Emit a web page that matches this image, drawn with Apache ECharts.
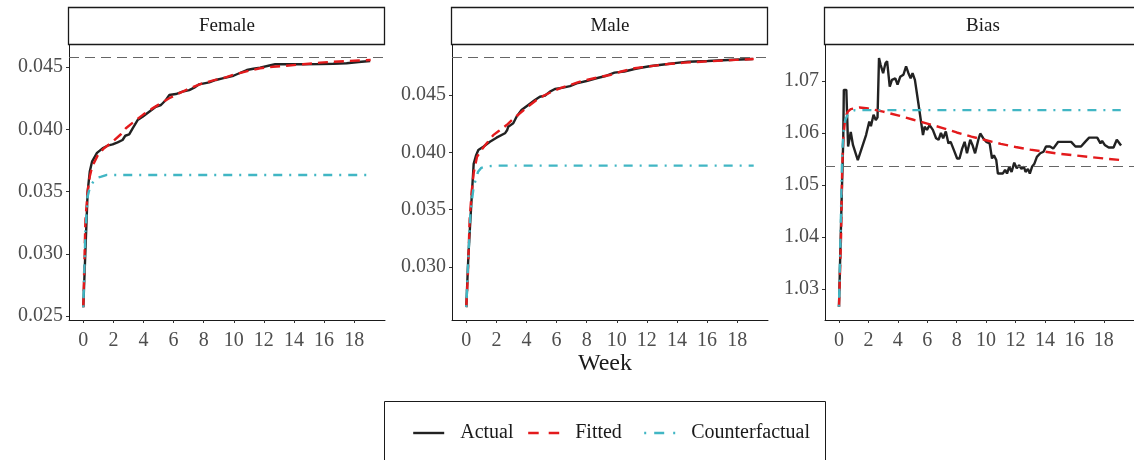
<!DOCTYPE html>
<html>
<head>
<meta charset="utf-8">
<script src="https://cdn.jsdelivr.net/npm/echarts@6/dist/echarts.min.js"></script>
<style>
html, body { margin: 0; padding: 0; background: #fff; }
#chart { width: 1134px; height: 460px; }
</style>
</head>
<body>
<div id="chart"></div>
<script>
// panels and ticks
var panels = ['Female', 'Male', 'Bias'];
var weekTicks = [0, 2, 4, 6, 8, 10, 12, 14, 16, 18];
var femaleTicks = [0.025, 0.030, 0.035, 0.040, 0.045];
var maleTicks = [0.030, 0.035, 0.040, 0.045];
var biasTicks = [1.03, 1.04, 1.05, 1.06, 1.07];

// horizontal reference lines
var refLines = [0.0458, 0.0483, 1.0536];

// [week, value]
var femaleActual = [[0,0.0257],[0.14,0.0302],[0.29,0.0350],[0.43,0.0366],[0.58,0.0374],[0.91,0.0381],[1.28,0.03847],[1.61,0.03868],[1.95,0.03879],[2.28,0.03895],[2.61,0.03914],[2.79,0.03948],[3.05,0.03959],[3.28,0.04008],[3.61,0.04074],[3.94,0.04101],[4.38,0.04141],[4.82,0.04181],[5.16,0.04195],[5.49,0.04235],[5.71,0.04275],[6.15,0.04283],[6.6,0.04302],[7.04,0.04315],[7.37,0.04334],[7.7,0.04361],[8.03,0.04369],[8.37,0.04377],[8.81,0.04396],[9.25,0.04409],[9.69,0.04422],[9.98,0.0443],[10.4,0.04452],[10.87,0.04476],[11.3,0.04486],[11.75,0.04495],[12.3,0.0451],[12.75,0.04522],[13.5,0.04522],[14.5,0.04522],[15.74,0.04524],[16.6,0.04526],[17.5,0.0453],[18.3,0.0454],[19.06,0.04548]];
var femaleFitted = [[0,0.0257],[0.14,0.0327],[0.29,0.0350],[0.43,0.0362],[0.57,0.0369],[0.71,0.0373],[1.0,0.0380],[1.4,0.0385],[1.95,0.0390],[2.5,0.0396],[2.83,0.04008],[3.5,0.04074],[4.0,0.0412],[4.6,0.04168],[5.1,0.04205],[5.71,0.04249],[6.2,0.0428],[6.82,0.04315],[7.4,0.04345],[7.92,0.04369],[8.7,0.04395],[9.47,0.04417],[9.98,0.04438],[10.9,0.04467],[11.75,0.0449],[12.6,0.04502],[13.5,0.0451],[14.6,0.04522],[15.74,0.04535],[16.6,0.04542],[17.5,0.04548],[18.3,0.04552],[19.1,0.04556]];
var femaleCounter = [[0,0.0257],[0.14,0.0318],[0.29,0.0346],[0.43,0.0353],[0.57,0.0356],[0.71,0.0359],[0.91,0.0361],[1.2,0.0362],[1.57,0.03633],[19.1,0.03633]];

var maleActual = [[0,0.0265],[0.14,0.0310],[0.22,0.0329],[0.4,0.0370],[0.49,0.0390],[0.64,0.0397],[0.8,0.0402],[1.13,0.04049],[1.57,0.04093],[2.01,0.04128],[2.57,0.04166],[2.72,0.04195],[2.79,0.04224],[3.12,0.04253],[3.34,0.04311],[3.67,0.04369],[4.12,0.04413],[4.56,0.04456],[4.89,0.04485],[5.22,0.04494],[5.56,0.04529],[5.89,0.04552],[6.44,0.04564],[6.89,0.04578],[7.33,0.04602],[7.99,0.04622],[8.65,0.04646],[9.32,0.04668],[9.85,0.04695],[10.5,0.04705],[11.18,0.04727],[11.7,0.0474],[12.28,0.04753],[13.39,0.0477],[14.0,0.0478],[14.72,0.0479],[16.05,0.04797],[17.38,0.04805],[18.2,0.0481],[19.04,0.04814]];
var maleFitted = [[0,0.0265],[0.11,0.0295],[0.22,0.0341],[0.36,0.0366],[0.49,0.0382],[0.71,0.0396],[1.0,0.0402],[1.3,0.0407],[1.79,0.0415],[2.2,0.0419],[2.68,0.04238],[3.1,0.0429],[3.56,0.0434],[4.1,0.0440],[4.67,0.04456],[5.2,0.04498],[5.78,0.04535],[6.3,0.04562],[6.89,0.04587],[7.4,0.0461],[7.99,0.04631],[8.8,0.04655],[9.54,0.04674],[10.3,0.04705],[11.18,0.04733],[12.3,0.04752],[13.39,0.0477],[14.5,0.04782],[15.6,0.0479],[16.7,0.04798],[17.9,0.04806],[19.1,0.04814]];
var maleCounter = [[0,0.0265],[0.11,0.0300],[0.27,0.0347],[0.49,0.0370],[0.78,0.0383],[1.0,0.03865],[1.33,0.03878],[2.0,0.03884],[19.1,0.03884]];

var biasActual = [[0,1.0266],[0.18,1.0471],[0.29,1.0587],[0.33,1.0683],[0.5,1.0683],[0.62,1.0574],[0.8,1.0602],[0.95,1.0577],[1.28,1.0548],[1.84,1.0596],[2.06,1.0622],[2.17,1.0613],[2.35,1.0635],[2.5,1.0625],[2.62,1.063],[2.72,1.0744],[2.83,1.0731],[3.0,1.0715],[3.16,1.0734],[3.27,1.0738],[3.45,1.0689],[3.6,1.0702],[3.83,1.0705],[3.98,1.0693],[4.16,1.0708],[4.38,1.0712],[4.56,1.0728],[4.72,1.0715],[4.87,1.0705],[5.0,1.0715],[5.16,1.0702],[5.38,1.066],[5.71,1.0596],[5.82,1.0612],[5.98,1.0606],[6.16,1.0615],[6.38,1.0606],[6.6,1.059],[6.77,1.0587],[6.93,1.06],[7.08,1.059],[7.26,1.0603],[7.44,1.058],[7.59,1.0583],[7.81,1.0567],[8.03,1.0551],[8.19,1.0551],[8.37,1.057],[8.54,1.0583],[8.7,1.0561],[8.92,1.0587],[9.07,1.0577],[9.25,1.0561],[9.47,1.0587],[9.6,1.0599],[9.8,1.059],[10.02,1.0583],[10.24,1.058],[10.4,1.0551],[10.53,1.0557],[10.69,1.0548],[10.8,1.0522],[11.13,1.0522],[11.29,1.0529],[11.42,1.0522],[11.57,1.0535],[11.73,1.0525],[11.91,1.0543],[12.08,1.0532],[12.24,1.0538],[12.4,1.0531],[12.57,1.0535],[12.68,1.0525],[12.84,1.0531],[12.97,1.0522],[13.12,1.0535],[13.28,1.0541],[13.45,1.0554],[13.68,1.0561],[13.9,1.0564],[14.07,1.0574],[14.34,1.0574],[14.56,1.057],[14.9,1.0583],[15.45,1.0583],[15.78,1.0583],[16.07,1.0574],[16.45,1.0574],[16.73,1.0583],[17.0,1.0591],[17.55,1.0591],[17.77,1.058],[17.88,1.0585],[18.06,1.0577],[18.33,1.0572],[18.66,1.0572],[18.88,1.0587],[19.17,1.0576]];
var biasFitted = [[0,1.0266],[0.14,1.040],[0.21,1.052],[0.29,1.059],[0.43,1.063],[0.6,1.0641],[0.8,1.0646],[1.39,1.0649],[2,1.0647],[3,1.0641],[4,1.0634],[5,1.0626],[6,1.0618],[7,1.061],[8,1.0601],[9,1.0593],[10,1.0586],[11,1.0579],[12,1.0573],[13,1.0568],[14,1.0564],[15,1.056],[16,1.0557],[17,1.0554],[18,1.0551],[19.15,1.0548]];
var biasCounter = [[0,1.0266],[0.14,1.045],[0.21,1.055],[0.29,1.060],[0.43,1.0625],[0.6,1.0636],[0.8,1.0641],[1.1,1.0644],[19.15,1.0644]];

var chart = echarts.init(document.getElementById('chart'), null, {renderer: 'canvas'});

var FONT = 'Liberation Serif';
var gridLefts = [69, 452, 825];
var gridW = 316, gridTop = 45, gridH = 275;
var yRanges = [[0.02468, 0.04677], [0.02538, 0.04936], [1.02404, 1.07692]];
var yTicks = [femaleTicks, maleTicks, biasTicks];
var yDigits = [3, 3, 2];
var seriesData = [
    [femaleActual, femaleFitted, femaleCounter],
    [maleActual, maleFitted, maleCounter],
    [biasActual, biasFitted, biasCounter]
];

// line look of each series
var styles = {
    Actual: {color: '#222222', width: 2.4, type: 'solid'},
    Fitted: {color: '#E31A1C', width: 2.4, type: [10, 6]},
    Counterfactual: {color: '#41B6C4', width: 2.4, type: [2, 7, 9, 7]}
};
// dash pattern of the legend keys
var legendDash = {Actual: 'solid', Fitted: [10.5, 10], Counterfactual: [2, 8, 10, 9]};
var names = ['Actual', 'Fitted', 'Counterfactual'];

var grids = [], xAxes = [], yAxes = [], series = [], graphics = [];

panels.forEach(function (name, i) {
    grids.push({left: gridLefts[i], top: gridTop, width: gridW, height: gridH});

    xAxes.push({
        type: 'value', gridIndex: i, min: -0.95, max: 20.05,
        axisLine: {show: true, onZero: false, lineStyle: {color: '#1a1a1a', width: 1}},
        axisTick: {show: true, length: 3, customValues: weekTicks, lineStyle: {color: '#333'}},
        axisLabel: {customValues: weekTicks, margin: 11, color: '#4d4d4d', fontSize: 20, fontFamily: FONT},
        splitLine: {show: false}
    });

    yAxes.push({
        type: 'value', gridIndex: i, min: yRanges[i][0], max: yRanges[i][1],
        axisLine: {show: true, onZero: false, lineStyle: {color: '#1a1a1a', width: 1}},
        axisTick: {show: true, length: 3, customValues: yTicks[i], lineStyle: {color: '#333'}},
        axisLabel: {
            customValues: yTicks[i], margin: 6, color: '#4d4d4d', fontSize: 20, fontFamily: FONT,
            formatter: (function (d) { return function (v) { return v.toFixed(d); }; })(yDigits[i])
        },
        splitLine: {show: false}
    });

    names.forEach(function (s, k) {
        var item = {
            name: s, type: 'line', xAxisIndex: i, yAxisIndex: i,
            data: seriesData[i][k], symbol: 'none', z: 3 + k,
            lineStyle: styles[s],
            itemStyle: {color: styles[s].color}
        };
        if (k === 0) {
            item.markLine = {
                silent: true, symbol: 'none', label: {show: false}, animation: false, precision: 6,
                lineStyle: {color: '#666666', width: 1.2, type: [10, 6]},
                data: [{yAxis: refLines[i]}]
            };
        }
        series.push(item);
    });

    // facet strip
    graphics.push({
        type: 'rect', z: 10,
        shape: {x: gridLefts[i] - 0.5, y: 7.5, width: gridW, height: 37},
        style: {fill: '#ffffff', stroke: '#1a1a1a', lineWidth: 1.3}
    });
    graphics.push({
        type: 'text', z: 11,
        style: {
            text: name, x: gridLefts[i] + gridW / 2, y: 26,
            align: 'center', verticalAlign: 'middle',
            font: '19px "' + FONT + '"', fill: '#1a1a1a'
        }
    });
});

// axis title
graphics.push({
    type: 'text', z: 11,
    style: {text: 'Week', x: 605, y: 364, align: 'center', verticalAlign: 'middle',
        font: '24px "' + FONT + '"', fill: '#1a1a1a'}
});
// legend box
graphics.push({
    type: 'rect', z: 1,
    shape: {x: 384.5, y: 401.5, width: 441, height: 80},
    style: {fill: 'none', stroke: '#1a1a1a', lineWidth: 1}
});

var legendLeft = [412, 527, 643];
var legends = names.map(function (s, k) {
    return {
        data: [s], left: legendLeft[k], top: 423, padding: 0,
        itemWidth: 31, itemHeight: 18, selectedMode: false,
        itemStyle: {opacity: 0},
        lineStyle: {color: styles[s].color, width: 2.4, type: legendDash[s]},
        textStyle: {fontFamily: FONT, fontSize: 20, color: '#1a1a1a', padding: [0, 0, 0, 11]}
    };
});

chart.setOption({
    animation: false,
    backgroundColor: '#ffffff',
    grid: grids,
    xAxis: xAxes,
    yAxis: yAxes,
    legend: legends,
    graphic: graphics,
    series: series
});
</script>
</body>
</html>
